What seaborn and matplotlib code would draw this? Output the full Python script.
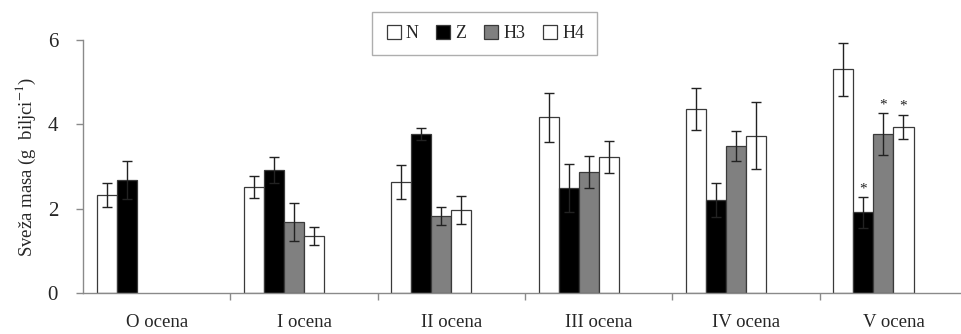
import numpy as np
import pandas as pd
import matplotlib
matplotlib.use("Agg")
import matplotlib.pyplot as plt
import seaborn as sns
from matplotlib.lines import Line2D

# values
ocene = ["O ocena", "I ocena", "II ocena", "III ocena", "IV ocena", "V ocena"]
grupe = ["N", "Z", "H3", "H4"]

masa_n = [2.32, 2.51, 2.63, 4.17, 4.36, 5.31]
masa_z = [2.68, 2.92, 3.77, 2.49, 2.20, 1.91]
masa_h3 = [np.nan, 1.69, 1.83, 2.86, 3.49, 3.77]
masa_h4 = [np.nan, 1.35, 1.97, 3.22, 3.73, 3.94]

err_n = [0.28, 0.26, 0.41, 0.58, 0.50, 0.63]
err_z = [0.45, 0.31, 0.14, 0.56, 0.40, 0.36]
err_h3 = [np.nan, 0.45, 0.22, 0.38, 0.36, 0.49]
err_h4 = [np.nan, 0.22, 0.34, 0.38, 0.80, 0.28]

# significance marks (*) per group
zvezda_n = [0, 0, 0, 0, 0, 0]
zvezda_z = [0, 0, 0, 0, 0, 1]
zvezda_h3 = [0, 0, 0, 0, 0, 1]
zvezda_h4 = [0, 0, 0, 0, 0, 1]

rows = []
for g, vals, errs, stars in [("N", masa_n, err_n, zvezda_n),
                             ("Z", masa_z, err_z, zvezda_z),
                             ("H3", masa_h3, err_h3, zvezda_h3),
                             ("H4", masa_h4, err_h4, zvezda_h4)]:
    for o, v, e, s in zip(ocene, vals, errs, stars):
        if not np.isnan(v):
            rows.append({"ocena": o, "grupa": g, "masa": v, "err": e, "star": s})
df = pd.DataFrame(rows)

# Excel-style layout leaves room for two empty series after H4
hue_order = grupe + ["_p1", "_p2"]
boje = {"N": "white", "Z": "black", "H3": "#808080", "H4": "white",
        "_p1": "white", "_p2": "white"}

sns.set_style("white")
plt.rcParams["font.family"] = ["Liberation Serif", "DejaVu Serif"]
plt.rcParams["mathtext.fontset"] = "stix"

fig = plt.figure(figsize=(9.61, 3.34), dpi=100)
ax = fig.add_axes([0.0864, 0.1228, 0.92, 0.7575])

sns.barplot(data=df, x="ocena", y="masa", hue="grupa", order=ocene,
            hue_order=hue_order, palette=boje, dodge=True, width=0.816,
            errorbar=None, edgecolor="#3a3a3a", linewidth=0.9,
            legend=False, ax=ax)

# error bars and stars placed on the bars seaborn drew
for p in ax.patches:
    h = p.get_height()
    if h is None or np.isnan(h) or h == 0:
        continue
    cx = p.get_x() + p.get_width() / 2
    o = ocene[int(round(cx))]
    sel = df[(df["ocena"] == o) & (np.isclose(df["masa"], h))]
    if sel.empty:
        continue
    r = sel.iloc[0]
    ax.errorbar(cx, h, yerr=r["err"], fmt="none", ecolor="#222222",
                elinewidth=1.0, capsize=3.6, capthick=1.0)
    if r["star"]:
        ax.text(cx, h + r["err"] + 0.05, "*", ha="center", va="bottom",
                fontsize=11, color="#222222")

ax.set_xlim(-0.5, 5.5)
ax.set_ylim(0, 6)
ax.set_yticks([0, 2, 4, 6])
ax.set_xlabel("")
ax.set_ylabel(r"Sveža masa (g  biljci$^{-1}$)", fontsize=13.5, labelpad=7)

for s in ["top", "right"]:
    ax.spines[s].set_visible(False)
for s in ["left", "bottom"]:
    ax.spines[s].set_color("#8a8a8a")
    ax.spines[s].set_linewidth(1.0)

ax.tick_params(axis="y", which="major", left=True, length=5, width=1,
               color="#8a8a8a", labelsize=15, pad=13)
ax.set_xticks(np.arange(len(ocene)))
ax.set_xticks(np.arange(0.5, len(ocene) - 0.5, 1), minor=True)
ax.tick_params(axis="x", which="major", length=0, labelsize=13.5, pad=15)
ax.tick_params(axis="x", which="minor", bottom=True, length=5, width=1,
               color="#8a8a8a")

handles = [Line2D([0], [0], marker="s", linestyle="none", markersize=10,
                  markerfacecolor=boje[g], markeredgecolor="#3a3a3a",
                  markeredgewidth=0.9, label=g) for g in grupe]
leg = fig.legend(handles=handles, loc="center", bbox_to_anchor=(0.504, 0.9),
                 ncol=4, frameon=True, fancybox=False, fontsize=13,
                 handlelength=1.0, handletextpad=0.15, columnspacing=0.9,
                 borderpad=0.7)
leg.get_frame().set_edgecolor("#9a9a9a")
leg.get_frame().set_linewidth(1.0)

fig.savefig("out.png", dpi=100)
